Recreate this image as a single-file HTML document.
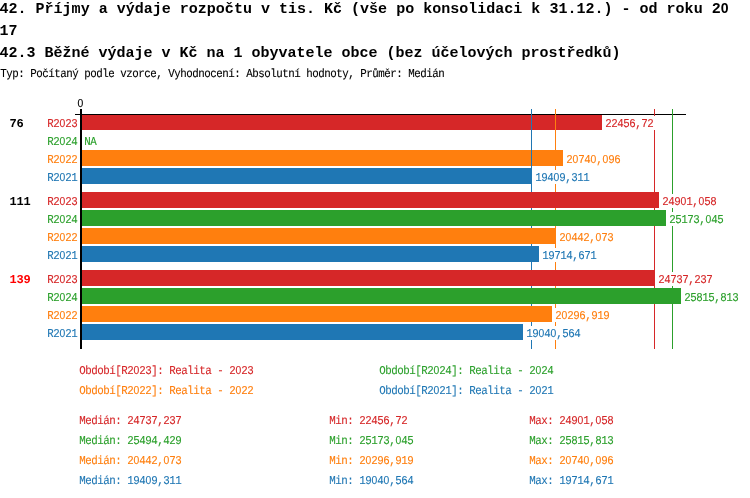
<!DOCTYPE html>
<html lang="cs"><head><meta charset="utf-8"><title>42.3 Běžné výdaje v Kč na 1 obyvatele obce</title>
<style>html,body{margin:0;padding:0;background:#fff}svg{display:block}text{font-family:"Liberation Mono",monospace;white-space:pre}.t{font-size:15px;font-weight:bold;fill:#000}.s,.b{text-rendering:geometricPrecision}.s{font-size:12px;stroke-width:.12px}.b{font-size:12px;font-weight:bold}.z{font-family:"Liberation Sans",sans-serif;font-size:11.5px}.t .z{font-size:14px}</style></head><body>
<svg width="750" height="498" viewBox="0 0 750 498">
<rect width="750" height="498" fill="#fff"/>
<text class="t" x="-0.5" y="13" textLength="729" lengthAdjust="spacingAndGlyphs" xml:space="preserve">42. Příjmy a výdaje rozpočtu v tis. Kč (vše po konsolidaci k 31.12.) - od roku 2<tspan class="z">0</tspan></text>
<text class="t" x="-0.5" y="35" textLength="18" lengthAdjust="spacingAndGlyphs" xml:space="preserve">17</text>
<text class="t" x="-0.5" y="57" textLength="621" lengthAdjust="spacingAndGlyphs" xml:space="preserve">42.3 Běžné výdaje v Kč na 1 obyvatele obce (bez účelových prostředků)</text>
<text class="s" transform="scale(0.9,1)" text-anchor="middle" x="3.89 10.56 17.22 23.89 30.56 37.22 43.89 50.56 57.22 63.89 70.56 77.22 83.89 90.56 97.22 103.89 110.56 117.22 123.89 130.56 137.22 143.89 150.56 157.22 163.89 170.56 177.22 183.89 190.56 197.22 203.89 210.56 217.22 223.89 230.56 237.22 243.89 250.56 257.22 263.89 270.56 277.22 283.89 290.56 297.22 303.89 310.56 317.22 323.89 330.56 337.22 343.89 350.56 357.22 363.89 370.56 377.22 383.89 390.56 397.22 403.89 410.56 417.22 423.89 430.56 437.22 443.89 450.56 457.22 463.89 470.56 477.22 483.89 490.56" y="77" fill="#000" stroke="#000" xml:space="preserve">Typ: Počítaný podle vzorce, Vyhodnocení: Absolutní hodnoty, Průměr: Medián</text>
<text class="s" transform="scale(0.9,1)" text-anchor="middle" x="89.44" y="107" fill="#000" stroke="#000" xml:space="preserve"><tspan class="z">0</tspan></text>
<rect x="75" y="114" width="611" height="1" fill="#000"/>
<rect x="82" y="114" width="520" height="16" fill="#d62728"/>
<rect x="82" y="150" width="481" height="16" fill="#ff7f0e"/>
<rect x="82" y="168" width="450" height="16" fill="#1f77b4"/>
<rect x="75" y="114" width="611" height="1" fill="#000"/>
<rect x="654" y="109" width="1" height="240" fill="#d62728"/>
<rect x="672" y="109" width="1" height="240" fill="#2ca02c"/>
<rect x="555" y="109" width="1" height="240" fill="#ff7f0e"/>
<rect x="531" y="109" width="1" height="240" fill="#1f77b4"/>
<rect x="82" y="192" width="577" height="16" fill="#d62728"/>
<rect x="82" y="210" width="584" height="16" fill="#2ca02c"/>
<rect x="82" y="228" width="474" height="16" fill="#ff7f0e"/>
<rect x="82" y="246" width="457" height="16" fill="#1f77b4"/>
<rect x="82" y="270" width="573" height="16" fill="#d62728"/>
<rect x="82" y="288" width="599" height="16" fill="#2ca02c"/>
<rect x="82" y="306" width="470" height="16" fill="#ff7f0e"/>
<rect x="82" y="324" width="441" height="16" fill="#1f77b4"/>
<rect x="80" y="109" width="2" height="240" fill="#000"/>
<text class="b" transform="scale(1.0,1)" text-anchor="middle" x="13.00 20.00" y="127" fill="#000" xml:space="preserve">76</text>
<text class="s" transform="scale(0.9,1)" text-anchor="middle" x="56.11 62.78 69.44 76.11 82.78" y="127" fill="#d62728" stroke="#d62728" xml:space="preserve">R2<tspan class="z">0</tspan>23</text>
<rect x="603" y="116" width="53" height="14" fill="#fff"/>
<text class="s" transform="scale(0.9,1)" text-anchor="middle" x="676.11 682.78 689.44 696.11 702.78 709.44 716.11 722.78" y="127" fill="#d62728" stroke="#d62728" xml:space="preserve">22456,72</text>
<text class="s" transform="scale(0.9,1)" text-anchor="middle" x="56.11 62.78 69.44 76.11 82.78" y="145" fill="#2ca02c" stroke="#2ca02c" xml:space="preserve">R2<tspan class="z">0</tspan>24</text>
<rect x="82" y="134" width="17" height="14" fill="#fff"/>
<text class="s" transform="scale(0.9,1)" text-anchor="middle" x="97.22 103.89" y="145" fill="#2ca02c" stroke="#2ca02c" xml:space="preserve">NA</text>
<text class="s" transform="scale(0.9,1)" text-anchor="middle" x="56.11 62.78 69.44 76.11 82.78" y="163" fill="#ff7f0e" stroke="#ff7f0e" xml:space="preserve">R2<tspan class="z">0</tspan>22</text>
<rect x="564" y="152" width="59" height="14" fill="#fff"/>
<text class="s" transform="scale(0.9,1)" text-anchor="middle" x="632.78 639.44 646.11 652.78 659.44 666.11 672.78 679.44 686.11" y="163" fill="#ff7f0e" stroke="#ff7f0e" xml:space="preserve">2<tspan class="z">0</tspan>74<tspan class="z">0</tspan>,<tspan class="z">0</tspan>96</text>
<text class="s" transform="scale(0.9,1)" text-anchor="middle" x="56.11 62.78 69.44 76.11 82.78" y="181" fill="#1f77b4" stroke="#1f77b4" xml:space="preserve">R2<tspan class="z">0</tspan>21</text>
<rect x="533" y="170" width="59" height="14" fill="#fff"/>
<text class="s" transform="scale(0.9,1)" text-anchor="middle" x="598.33 605.00 611.67 618.33 625.00 631.67 638.33 645.00 651.67" y="181" fill="#1f77b4" stroke="#1f77b4" xml:space="preserve">194<tspan class="z">0</tspan>9,311</text>
<text class="b" transform="scale(1.0,1)" text-anchor="middle" x="13.00 20.00 27.00" y="205" fill="#000" xml:space="preserve">111</text>
<text class="s" transform="scale(0.9,1)" text-anchor="middle" x="56.11 62.78 69.44 76.11 82.78" y="205" fill="#d62728" stroke="#d62728" xml:space="preserve">R2<tspan class="z">0</tspan>23</text>
<rect x="660" y="194" width="59" height="14" fill="#fff"/>
<text class="s" transform="scale(0.9,1)" text-anchor="middle" x="739.44 746.11 752.78 759.44 766.11 772.78 779.44 786.11 792.78" y="205" fill="#d62728" stroke="#d62728" xml:space="preserve">249<tspan class="z">0</tspan>1,<tspan class="z">0</tspan>58</text>
<text class="s" transform="scale(0.9,1)" text-anchor="middle" x="56.11 62.78 69.44 76.11 82.78" y="223" fill="#2ca02c" stroke="#2ca02c" xml:space="preserve">R2<tspan class="z">0</tspan>24</text>
<rect x="667" y="212" width="59" height="14" fill="#fff"/>
<text class="s" transform="scale(0.9,1)" text-anchor="middle" x="747.22 753.89 760.56 767.22 773.89 780.56 787.22 793.89 800.56" y="223" fill="#2ca02c" stroke="#2ca02c" xml:space="preserve">25173,<tspan class="z">0</tspan>45</text>
<text class="s" transform="scale(0.9,1)" text-anchor="middle" x="56.11 62.78 69.44 76.11 82.78" y="241" fill="#ff7f0e" stroke="#ff7f0e" xml:space="preserve">R2<tspan class="z">0</tspan>22</text>
<rect x="557" y="230" width="59" height="14" fill="#fff"/>
<text class="s" transform="scale(0.9,1)" text-anchor="middle" x="625.00 631.67 638.33 645.00 651.67 658.33 665.00 671.67 678.33" y="241" fill="#ff7f0e" stroke="#ff7f0e" xml:space="preserve">2<tspan class="z">0</tspan>442,<tspan class="z">0</tspan>73</text>
<text class="s" transform="scale(0.9,1)" text-anchor="middle" x="56.11 62.78 69.44 76.11 82.78" y="259" fill="#1f77b4" stroke="#1f77b4" xml:space="preserve">R2<tspan class="z">0</tspan>21</text>
<rect x="540" y="248" width="59" height="14" fill="#fff"/>
<text class="s" transform="scale(0.9,1)" text-anchor="middle" x="606.11 612.78 619.44 626.11 632.78 639.44 646.11 652.78 659.44" y="259" fill="#1f77b4" stroke="#1f77b4" xml:space="preserve">19714,671</text>
<text class="b" transform="scale(1.0,1)" text-anchor="middle" x="13.00 20.00 27.00" y="283" fill="#f00" xml:space="preserve">139</text>
<text class="s" transform="scale(0.9,1)" text-anchor="middle" x="56.11 62.78 69.44 76.11 82.78" y="283" fill="#d62728" stroke="#d62728" xml:space="preserve">R2<tspan class="z">0</tspan>23</text>
<rect x="656" y="272" width="59" height="14" fill="#fff"/>
<text class="s" transform="scale(0.9,1)" text-anchor="middle" x="735.00 741.67 748.33 755.00 761.67 768.33 775.00 781.67 788.33" y="283" fill="#d62728" stroke="#d62728" xml:space="preserve">24737,237</text>
<text class="s" transform="scale(0.9,1)" text-anchor="middle" x="56.11 62.78 69.44 76.11 82.78" y="301" fill="#2ca02c" stroke="#2ca02c" xml:space="preserve">R2<tspan class="z">0</tspan>24</text>
<rect x="682" y="290" width="59" height="14" fill="#fff"/>
<text class="s" transform="scale(0.9,1)" text-anchor="middle" x="763.89 770.56 777.22 783.89 790.56 797.22 803.89 810.56 817.22" y="301" fill="#2ca02c" stroke="#2ca02c" xml:space="preserve">25815,813</text>
<text class="s" transform="scale(0.9,1)" text-anchor="middle" x="56.11 62.78 69.44 76.11 82.78" y="319" fill="#ff7f0e" stroke="#ff7f0e" xml:space="preserve">R2<tspan class="z">0</tspan>22</text>
<rect x="553" y="308" width="59" height="14" fill="#fff"/>
<text class="s" transform="scale(0.9,1)" text-anchor="middle" x="620.56 627.22 633.89 640.56 647.22 653.89 660.56 667.22 673.89" y="319" fill="#ff7f0e" stroke="#ff7f0e" xml:space="preserve">2<tspan class="z">0</tspan>296,919</text>
<text class="s" transform="scale(0.9,1)" text-anchor="middle" x="56.11 62.78 69.44 76.11 82.78" y="337" fill="#1f77b4" stroke="#1f77b4" xml:space="preserve">R2<tspan class="z">0</tspan>21</text>
<rect x="524" y="326" width="59" height="14" fill="#fff"/>
<text class="s" transform="scale(0.9,1)" text-anchor="middle" x="588.33 595.00 601.67 608.33 615.00 621.67 628.33 635.00 641.67" y="337" fill="#1f77b4" stroke="#1f77b4" xml:space="preserve">19<tspan class="z">0</tspan>4<tspan class="z">0</tspan>,564</text>
<text class="s" transform="scale(0.9,1)" text-anchor="middle" x="91.67 98.33 105.00 111.67 118.33 125.00 131.67 138.33 145.00 151.67 158.33 165.00 171.67 178.33 185.00 191.67 198.33 205.00 211.67 218.33 225.00 231.67 238.33 245.00 251.67 258.33 265.00 271.67 278.33" y="374" fill="#d62728" stroke="#d62728" xml:space="preserve">Období[R2<tspan class="z">0</tspan>23]: Realita - 2<tspan class="z">0</tspan>23</text>
<text class="s" transform="scale(0.9,1)" text-anchor="middle" x="425.00 431.67 438.33 445.00 451.67 458.33 465.00 471.67 478.33 485.00 491.67 498.33 505.00 511.67 518.33 525.00 531.67 538.33 545.00 551.67 558.33 565.00 571.67 578.33 585.00 591.67 598.33 605.00 611.67" y="374" fill="#2ca02c" stroke="#2ca02c" xml:space="preserve">Období[R2<tspan class="z">0</tspan>24]: Realita - 2<tspan class="z">0</tspan>24</text>
<text class="s" transform="scale(0.9,1)" text-anchor="middle" x="91.67 98.33 105.00 111.67 118.33 125.00 131.67 138.33 145.00 151.67 158.33 165.00 171.67 178.33 185.00 191.67 198.33 205.00 211.67 218.33 225.00 231.67 238.33 245.00 251.67 258.33 265.00 271.67 278.33" y="394" fill="#ff7f0e" stroke="#ff7f0e" xml:space="preserve">Období[R2<tspan class="z">0</tspan>22]: Realita - 2<tspan class="z">0</tspan>22</text>
<text class="s" transform="scale(0.9,1)" text-anchor="middle" x="425.00 431.67 438.33 445.00 451.67 458.33 465.00 471.67 478.33 485.00 491.67 498.33 505.00 511.67 518.33 525.00 531.67 538.33 545.00 551.67 558.33 565.00 571.67 578.33 585.00 591.67 598.33 605.00 611.67" y="394" fill="#1f77b4" stroke="#1f77b4" xml:space="preserve">Období[R2<tspan class="z">0</tspan>21]: Realita - 2<tspan class="z">0</tspan>21</text>
<text class="s" transform="scale(0.9,1)" text-anchor="middle" x="91.67 98.33 105.00 111.67 118.33 125.00 131.67 138.33 145.00 151.67 158.33 165.00 171.67 178.33 185.00 191.67 198.33" y="424" fill="#d62728" stroke="#d62728" xml:space="preserve">Medián: 24737,237</text>
<text class="s" transform="scale(0.9,1)" text-anchor="middle" x="369.44 376.11 382.78 389.44 396.11 402.78 409.44 416.11 422.78 429.44 436.11 442.78 449.44" y="424" fill="#d62728" stroke="#d62728" xml:space="preserve">Min: 22456,72</text>
<text class="s" transform="scale(0.9,1)" text-anchor="middle" x="591.67 598.33 605.00 611.67 618.33 625.00 631.67 638.33 645.00 651.67 658.33 665.00 671.67 678.33" y="424" fill="#d62728" stroke="#d62728" xml:space="preserve">Max: 249<tspan class="z">0</tspan>1,<tspan class="z">0</tspan>58</text>
<text class="s" transform="scale(0.9,1)" text-anchor="middle" x="91.67 98.33 105.00 111.67 118.33 125.00 131.67 138.33 145.00 151.67 158.33 165.00 171.67 178.33 185.00 191.67 198.33" y="444" fill="#2ca02c" stroke="#2ca02c" xml:space="preserve">Medián: 25494,429</text>
<text class="s" transform="scale(0.9,1)" text-anchor="middle" x="369.44 376.11 382.78 389.44 396.11 402.78 409.44 416.11 422.78 429.44 436.11 442.78 449.44 456.11" y="444" fill="#2ca02c" stroke="#2ca02c" xml:space="preserve">Min: 25173,<tspan class="z">0</tspan>45</text>
<text class="s" transform="scale(0.9,1)" text-anchor="middle" x="591.67 598.33 605.00 611.67 618.33 625.00 631.67 638.33 645.00 651.67 658.33 665.00 671.67 678.33" y="444" fill="#2ca02c" stroke="#2ca02c" xml:space="preserve">Max: 25815,813</text>
<text class="s" transform="scale(0.9,1)" text-anchor="middle" x="91.67 98.33 105.00 111.67 118.33 125.00 131.67 138.33 145.00 151.67 158.33 165.00 171.67 178.33 185.00 191.67 198.33" y="464" fill="#ff7f0e" stroke="#ff7f0e" xml:space="preserve">Medián: 2<tspan class="z">0</tspan>442,<tspan class="z">0</tspan>73</text>
<text class="s" transform="scale(0.9,1)" text-anchor="middle" x="369.44 376.11 382.78 389.44 396.11 402.78 409.44 416.11 422.78 429.44 436.11 442.78 449.44 456.11" y="464" fill="#ff7f0e" stroke="#ff7f0e" xml:space="preserve">Min: 2<tspan class="z">0</tspan>296,919</text>
<text class="s" transform="scale(0.9,1)" text-anchor="middle" x="591.67 598.33 605.00 611.67 618.33 625.00 631.67 638.33 645.00 651.67 658.33 665.00 671.67 678.33" y="464" fill="#ff7f0e" stroke="#ff7f0e" xml:space="preserve">Max: 2<tspan class="z">0</tspan>74<tspan class="z">0</tspan>,<tspan class="z">0</tspan>96</text>
<text class="s" transform="scale(0.9,1)" text-anchor="middle" x="91.67 98.33 105.00 111.67 118.33 125.00 131.67 138.33 145.00 151.67 158.33 165.00 171.67 178.33 185.00 191.67 198.33" y="484" fill="#1f77b4" stroke="#1f77b4" xml:space="preserve">Medián: 194<tspan class="z">0</tspan>9,311</text>
<text class="s" transform="scale(0.9,1)" text-anchor="middle" x="369.44 376.11 382.78 389.44 396.11 402.78 409.44 416.11 422.78 429.44 436.11 442.78 449.44 456.11" y="484" fill="#1f77b4" stroke="#1f77b4" xml:space="preserve">Min: 19<tspan class="z">0</tspan>4<tspan class="z">0</tspan>,564</text>
<text class="s" transform="scale(0.9,1)" text-anchor="middle" x="591.67 598.33 605.00 611.67 618.33 625.00 631.67 638.33 645.00 651.67 658.33 665.00 671.67 678.33" y="484" fill="#1f77b4" stroke="#1f77b4" xml:space="preserve">Max: 19714,671</text>
</svg></body></html>
